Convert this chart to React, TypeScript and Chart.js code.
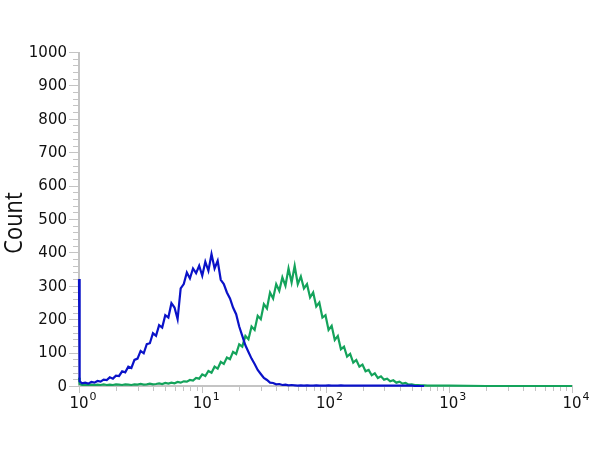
import { useEffect, useRef } from "react";
import { Chart, registerables } from "chart.js";

Chart.register(...registerables);

// Channel positions (fluorescence intensity, log scale)
const xValues = [
  1.0, 1.012, 1.059, 1.122, 1.189, 1.259, 1.334, 1.413, 1.496, 1.585, 1.679, 1.778, 1.884, 1.995, 2.113,
  2.239, 2.371, 2.512, 2.661, 2.818, 2.985, 3.162, 3.35, 3.548, 3.758, 3.981, 4.217, 4.467, 4.732, 5.012,
  5.309, 5.623, 5.957, 6.31, 6.683, 7.079, 7.499, 7.943, 8.414, 8.913, 9.441,
  10.0, 10.59, 11.22, 11.89, 12.59, 13.34, 14.13, 14.96, 15.85, 16.79, 17.78, 18.84, 19.95, 21.13, 22.39,
  23.71, 25.12, 26.61, 28.18, 29.85, 31.62, 33.5, 35.48, 37.58, 39.81, 42.17, 44.67, 47.32, 50.12, 53.09,
  56.23, 59.57, 63.1, 66.83, 70.79, 74.99, 79.43, 84.14, 89.13, 94.41,
  100.0, 105.9, 112.2, 118.9, 125.9, 133.4, 141.3, 149.6, 158.5, 167.9, 177.8, 188.4, 199.5, 211.3, 223.9,
  237.1, 251.2, 266.1, 281.8, 298.5, 316.2, 335.0, 354.8, 375.8, 398.1, 421.7, 446.7, 473.2, 501.2, 530.9,
  562.3, 595.7, 631.0, 668.3, 707.9, 749.9, 794.3, 841.4, 891.3, 944.1,
  1000, 2000, 5000, 10000,
];

// Isotype / unstained control (blue)
const blueCounts: (number | null)[] = [
  320, 14, 8, 10, 7, 12, 10, 15, 13, 19, 18, 26, 22, 31, 30, 44, 41, 58, 54, 78, 82, 105, 98, 125, 128, 158,
  150, 182, 175, 212, 205, 248, 235, 200, 292, 305, 340, 322, 352, 338, 360,
  330, 372, 345, 395, 352, 375, 318, 305, 280, 262, 235, 215, 178, 150, 122, 102, 82, 66, 48, 36, 24, 18, 10,
  9, 5, 6, 3, 4, 2, 3, 2, 1, 2, 1, 2, 1, 1, 2, 1, 1,
  1, 2, 1, 1, 1, 2, 1, 1, 1, 1, 1, 1, 1, 1, 1, 1, 1, 1, 1, 1, 1, 1, 1, 1, 1, 1, 1, 1, 1, 0, 0, 0, 0,
  null, null, null, null, null, null, null,
  null, null, null, null,
];

// Stained sample (green)
const greenCounts: (number | null)[] = [
  25, 6, 3, 4, 3, 4, 3, 4, 3, 5, 3, 4, 3, 5, 4, 3, 5, 4, 3, 5, 4, 6, 4, 5, 7, 5, 6, 8, 6, 9, 7, 10, 8, 12, 10,
  14, 13, 18, 16, 24, 22,
  35, 30, 45, 40, 58, 52, 72, 66, 85, 80, 102, 96, 125, 118, 150, 140, 178, 168, 210, 200, 245, 232, 280, 262,
  305, 285, 325, 300, 352, 310, 360, 305, 328, 292, 305, 265, 280, 238, 250, 205,
  212, 168, 180, 138, 150, 110, 118, 88, 96, 70, 78, 58, 64, 44, 48, 32, 38, 24, 29, 19, 22, 14, 17, 10, 13,
  7, 9, 4, 5, 3, 3, 2, 2, 1, 1, 1, 1, 1, 1, 1,
  1, 0, 0, 0,
];

const yTickValues = [0, 100, 200, 300, 400, 500, 600, 700, 800, 900, 1000];
const yTickLabels = ["0", "100", "200", "300", "400", "500", "600", "700", "800", "900", "1000"];
const yMinorStep = 20;
const xDecadeValues = [1, 10, 100, 1000, 10000];
const xDecadeBase = "10";
const xDecadeExponents = ["0", "1", "2", "3", "4"];
const xMinorTickValues = [
  2, 3, 4, 5, 6, 7, 8, 9, 20, 30, 40, 50, 60, 70, 80, 90, 200, 300, 400, 500, 600, 700, 800, 900, 2000, 3000,
  4000, 5000, 6000, 7000, 8000, 9000,
];
const yAxisTitle = "Count";

const AXIS_COLOR = "#c4c4c4";
const TEXT_COLOR = "#111111";
const TICK_FONT = '"DejaVu Sans", Verdana, sans-serif';

const axesPlugin = {
  id: "flowAxes",
  beforeDatasetsDraw(chart: any) {
    const ctx: CanvasRenderingContext2D = chart.ctx;
    const xs = chart.scales.x;
    const ys = chart.scales.y;
    const left = Math.round(xs.getPixelForValue(xDecadeValues[0]));
    const right = Math.round(xs.getPixelForValue(xDecadeValues[xDecadeValues.length - 1]));
    const bottom = Math.round(ys.getPixelForValue(0));
    const top = Math.round(ys.getPixelForValue(yTickValues[yTickValues.length - 1]));
    ctx.save();

    // y axis ticks
    ctx.strokeStyle = AXIS_COLOR;
    ctx.lineWidth = 1;
    for (let v = 0; v <= 1000; v += yMinorStep) {
      const py = Math.round(ys.getPixelForValue(v)) + 0.5;
      const major = yTickValues.includes(v);
      ctx.beginPath();
      ctx.moveTo(left - (major ? 10 : 6), py);
      ctx.lineTo(left, py);
      ctx.stroke();
    }
    // y axis line
    ctx.lineWidth = 2;
    ctx.beginPath();
    ctx.moveTo(left, top);
    ctx.lineTo(left, bottom + 1);
    ctx.stroke();

    // x axis ticks
    ctx.lineWidth = 1;
    xMinorTickValues.forEach((v) => {
      const px = Math.round(xs.getPixelForValue(v)) + 0.5;
      ctx.beginPath();
      ctx.moveTo(px, bottom);
      ctx.lineTo(px, bottom + 5);
      ctx.stroke();
    });
    xDecadeValues.forEach((v) => {
      const px = Math.round(xs.getPixelForValue(v)) + 0.5;
      ctx.beginPath();
      ctx.moveTo(px, bottom);
      ctx.lineTo(px, bottom + 7);
      ctx.stroke();
    });
    // x axis line
    ctx.lineWidth = 2;
    ctx.beginPath();
    ctx.moveTo(left - 1, bottom);
    ctx.lineTo(right + 1, bottom);
    ctx.stroke();

    // y labels
    ctx.fillStyle = TEXT_COLOR;
    ctx.font = `15px ${TICK_FONT}`;
    ctx.textAlign = "right";
    ctx.textBaseline = "middle";
    yTickValues.forEach((v, i) => {
      ctx.fillText(yTickLabels[i], left - 12, ys.getPixelForValue(v) + 1);
    });

    // x labels with superscript exponents
    ctx.textBaseline = "alphabetic";
    xDecadeValues.forEach((v, i) => {
      const px = xs.getPixelForValue(v);
      ctx.font = `15px ${TICK_FONT}`;
      ctx.textAlign = "center";
      ctx.fillText(xDecadeBase, px, bottom + 22);
      const w = ctx.measureText(xDecadeBase).width;
      ctx.font = `11px ${TICK_FONT}`;
      ctx.textAlign = "left";
      ctx.fillText(xDecadeExponents[i], px + w / 2 + 1, bottom + 14);
    });

    // y title (condensed)
    ctx.save();
    ctx.translate(15, (top + bottom) / 2 + 4);
    ctx.rotate(-Math.PI / 2);
    ctx.scale(0.84, 1);
    ctx.font = '26px "Open Sans", sans-serif';
    ctx.textAlign = "center";
    ctx.textBaseline = "middle";
    ctx.fillStyle = TEXT_COLOR;
    ctx.fillText(yAxisTitle, 0, 0);
    ctx.restore();

    ctx.restore();
  },
};

export default function App() {
  const canvasRef = useRef<HTMLCanvasElement | null>(null);

  useEffect(() => {
    if (!canvasRef.current) return;
    const chart = new Chart(canvasRef.current, {
      type: "line",
      data: {
        datasets: [
          {
            label: "Control",
            data: xValues.map((x, i) => ({ x, y: blueCounts[i] })) as any,
            borderColor: "#0a12c8",
            borderWidth: 2.2,
            pointRadius: 0,
            tension: 0,
            clip: false as any,
          },
          {
            label: "Sample",
            data: xValues.map((x, i) => ({ x, y: greenCounts[i] })) as any,
            borderColor: "#14a35b",
            borderWidth: 2.2,
            pointRadius: 0,
            tension: 0,
            clip: false as any,
          },
        ],
      },
      options: {
        animation: false,
        responsive: false,
        layout: { padding: { left: 79, right: 28, top: 52, bottom: 64 } },
        scales: {
          x: { type: "logarithmic", min: 1, max: 10000, display: false },
          y: { type: "linear", min: 0, max: 1000, display: false },
        },
        plugins: {
          legend: { display: false },
          tooltip: { enabled: false },
        },
      },
      plugins: [axesPlugin],
    });
    return () => chart.destroy();
  }, []);

  return (
    <div style={{ position: "absolute", left: 0, top: 0, width: 600, height: 450, background: "#fff" }}>
      <canvas ref={canvasRef} width={600} height={450} style={{ display: "block" }} />
    </div>
  );
}
